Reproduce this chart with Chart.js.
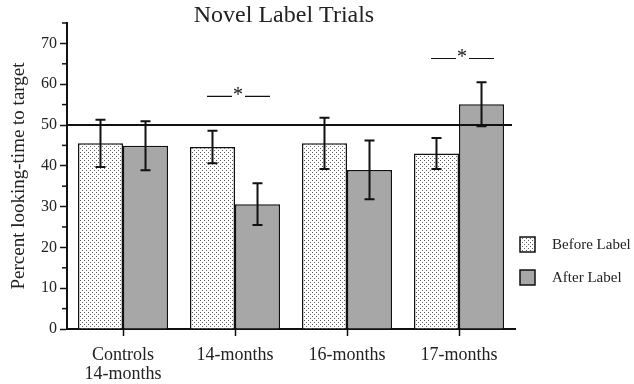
<!DOCTYPE html>
<html>
<head>
<meta charset="utf-8">
<script src="https://cdn.jsdelivr.net/npm/chart.js@4"></script>
<style>
  html, body { margin: 0; padding: 0; background: #fff; }
  #wrap { width: 634px; height: 384px; }
</style>
</head>
<body>
<div id="wrap"><canvas id="chart"></canvas></div>
<script>
const categories = [['Controls', '14-months'], '14-months', '16-months', '17-months'];
const seriesNames = ['Before Label', 'After Label'];
const beforeValues = [45.5, 44.6, 45.5, 43.0];
const beforeErrors = [5.8, 4.0, 6.3, 3.8];
const afterValues = [44.9, 30.6, 39.0, 55.1];
const afterErrors = [6.0, 5.1, 7.2, 5.4];
const referenceLevel = 50;
const sigIndexes = [1, 3];
const sigLevels = [57, 66.3];

const serif = "'Liberation Serif', 'DejaVu Serif', serif";

// dotted fill for the "before" bars
function dotPattern() {
    const c = document.createElement('canvas');
    c.width = 4; c.height = 4;
    const g = c.getContext('2d');
    g.fillStyle = '#ffffff';
    g.fillRect(0, 0, 4, 4);
    g.fillStyle = '#606060';
    g.fillRect(0, 0, 1, 1);
    g.fillRect(2, 2, 1, 1);
    return g.createPattern(c, 'repeat');
}
const dots = dotPattern();
const gray = '#a7a7a7';

const extrasPlugin = {
    id: 'extras',
    afterDatasetsDraw(chart) {
        const ctx = chart.ctx;
        const y = chart.scales.y;
        const area = chart.chartArea;
        const errs = [beforeErrors, afterErrors];

        ctx.save();
        // reference line
        ctx.strokeStyle = '#111';
        ctx.lineWidth = 2;
        ctx.beginPath();
        ctx.moveTo(area.left, y.getPixelForValue(referenceLevel));
        ctx.lineTo(area.right - 3, y.getPixelForValue(referenceLevel));
        ctx.stroke();

        // error bars
        chart.data.datasets.forEach((ds, di) => {
            const meta = chart.getDatasetMeta(di);
            meta.data.forEach((bar, i) => {
                const v = ds.data[i];
                const top = y.getPixelForValue(v + errs[di][i]);
                const bot = y.getPixelForValue(v - errs[di][i]);
                ctx.beginPath();
                ctx.moveTo(bar.x, top);
                ctx.lineTo(bar.x, bot);
                ctx.moveTo(bar.x - 5, top);
                ctx.lineTo(bar.x + 5, top);
                ctx.moveTo(bar.x - 5, bot);
                ctx.lineTo(bar.x + 5, bot);
                ctx.stroke();
            });
        });

        // significance marks
        ctx.lineWidth = 1.2;
        ctx.fillStyle = '#111';
        ctx.font = '20px ' + serif;
        ctx.textAlign = 'center';
        ctx.textBaseline = 'middle';
        sigIndexes.forEach((ci, k) => {
            const cx = chart.scales.x.getPixelForValue(ci) + 3;
            const ly = y.getPixelForValue(sigLevels[k]);
            ctx.beginPath();
            ctx.moveTo(cx - 31, ly);
            ctx.lineTo(cx - 6, ly);
            ctx.moveTo(cx + 7, ly);
            ctx.lineTo(cx + 32, ly);
            ctx.stroke();
            ctx.fillText('*', cx, ly - 1);
        });

        // custom legend
        const fills = [dots, gray];
        ctx.font = '15px ' + serif;
        ctx.textAlign = 'left';
        ctx.lineWidth = 1.5;
        seriesNames.forEach((name, k) => {
            const by = 237 + k * 33;
            ctx.fillStyle = fills[k];
            ctx.fillRect(520, by, 15, 15);
            ctx.strokeStyle = '#111';
            ctx.strokeRect(520, by, 15, 15);
            ctx.fillStyle = '#222';
            ctx.fillText(name, 552, by + 8);
        });

        // title
        ctx.font = '24px ' + serif;
        ctx.textAlign = 'center';
        ctx.fillText('Novel Label Trials', 284, 16);

        // minor ticks on y axis
        ctx.lineWidth = 1.5;
        for (let v = 5; v <= 75; v += 10) {
            const py = y.getPixelForValue(v);
            ctx.beginPath();
            ctx.moveTo(area.left - 5, py);
            ctx.lineTo(area.left, py);
            ctx.stroke();
        }
        ctx.restore();
    }
};

new Chart(document.getElementById('chart'), {
    type: 'bar',
    data: {
        labels: categories,
        datasets: [
            {
                label: seriesNames[0],
                data: beforeValues,
                backgroundColor: dots,
                borderColor: '#111',
                borderWidth: 1.5
            },
            {
                label: seriesNames[1],
                data: afterValues,
                backgroundColor: gray,
                borderColor: '#111',
                borderWidth: 1.5
            }
        ]
    },
    options: {
        responsive: true,
        maintainAspectRatio: false,
        animation: false,
        layout: { padding: { top: 23, right: 119, left: 0, bottom: 0 } },
        datasets: { bar: { categoryPercentage: 0.804, barPercentage: 1 } },
        plugins: {
            legend: { display: false },
            tooltip: { enabled: false }
        },
        scales: {
            x: {
                afterFit(scale) { scale.height = 55; },
                grid: {
                    offset: false,
                    drawOnChartArea: false,
                    tickLength: 7,
                    tickColor: '#111',
                    tickWidth: 1.5
                },
                border: { color: '#111', width: 2 },
                ticks: {
                    color: '#222',
                    padding: 9,
                    maxRotation: 0,
                    font: { family: serif, size: 18, lineHeight: 1.1 }
                }
            },
            y: {
                min: 0,
                max: 75,
                afterFit(scale) { scale.width = 67; },
                grid: {
                    drawOnChartArea: false,
                    tickLength: 7,
                    tickWidth: 1.5,
                    tickColor: ctx => (ctx.tick && ctx.tick.value % 10 === 0) ? '#111' : 'rgba(0,0,0,0)'
                },
                border: { color: '#111', width: 2 },
                ticks: {
                    stepSize: 5,
                    color: '#222',
                    padding: 3,
                    font: { family: serif, size: 16 },
                    callback: v => (v % 10 === 0 ? v : '')
                },
                title: {
                    display: true,
                    text: 'Percent looking-time to target',
                    color: '#222',
                    padding: { top: 8, bottom: 0 },
                    font: { family: serif, size: 19 }
                }
            }
        }
    },
    plugins: [extrasPlugin]
});
</script>
</body>
</html>
